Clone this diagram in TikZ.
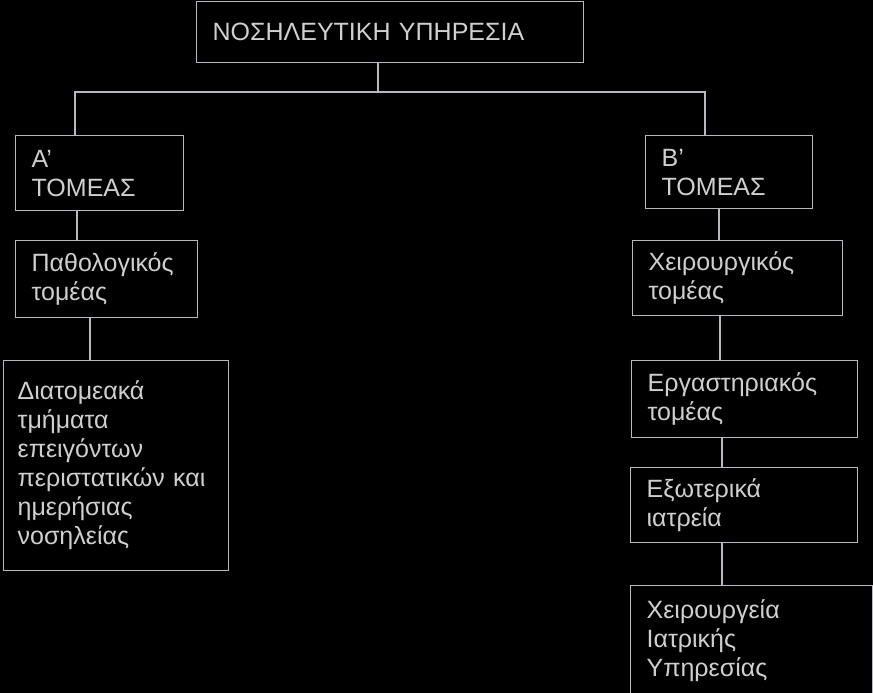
\documentclass[tikz,border=0pt]{standalone}
\usepackage{fontspec}
\setmainfont{Liberation Sans}
\definecolor{linec}{HTML}{B8B8C0}
\definecolor{textc}{HTML}{CFCFCF}
\tikzset{
  box/.style={draw=linec, line width=1.3pt, text=textc, anchor=north west,
    align=left, inner xsep=16pt, inner ysep=0pt,
    font=\fontsize{25}{29}\selectfont},
  conn/.style={draw=linec, line width=1.3pt}
}
\begin{document}
\begin{tikzpicture}[x=1pt,y=-1pt]
\fill[black] (0,0) rectangle (873,693);
\useasboundingbox (0,0) rectangle (873,693);
\clip (0,0) rectangle (873,693);

\node[box, text width=355pt, minimum height=61pt] (T) at (196,1) {ΝΟΣΗΛΕΥΤΙΚΗ ΥΠΗΡΕΣΙΑ};

\node[box, text width=136pt, minimum height=75pt] (A) at (15,135) {Α'\\ΤΟΜΕΑΣ};
\node[box, text width=150pt, minimum height=77pt] (P) at (15,240) {Παθολογικός\\τομέας};
\node[box, inner xsep=14pt, text width=197pt, minimum height=210pt] (D) at (3,360)
  {Διατομεακά\\τμήματα\\επειγόντων\\\mbox{περιστατικών και}\\ημερήσιας\\νοσηλείας};

\node[box, text width=135pt, minimum height=73pt] (B) at (645,135) {Β'\\ΤΟΜΕΑΣ};
\node[box, text width=178pt, minimum height=75pt] (X) at (632,240) {Χειρουργικός\\τομέας};
\node[box, text width=194pt, minimum height=77pt] (E) at (631,360) {Εργαστηριακός\\τομέας};
\node[box, text width=195pt, minimum height=75pt] (O) at (630,467) {Εξωτερικά\\ιατρεία};
\node[box, text width=210pt, minimum height=110pt] (S) at (630,585) {Χειρουργεία\\Ιατρικής\\Υπηρεσίας};

\coordinate (jT) at (378,92);
\coordinate (jA) at (75,92);
\coordinate (jB) at (705,92);
\coordinate (cAP) at (77,0);
\coordinate (cPD) at (90,0);
\coordinate (cBX) at (719,0);
\coordinate (cXE) at (720,0);
\coordinate (cEO) at (722,0);
\coordinate (cOS) at (722,0);

\draw[conn] (T.south -| jT) -- (jT);
\draw[conn] (A.north -| jA) -- (jA) -- (jB) -- (B.north -| jB);
\draw[conn] (A.south -| cAP) -- (P.north -| cAP);
\draw[conn] (P.south -| cPD) -- (D.north -| cPD);
\draw[conn] (B.south -| cBX) -- (X.north -| cBX);
\draw[conn] (X.south -| cXE) -- (E.north -| cXE);
\draw[conn] (E.south -| cEO) -- (O.north -| cEO);
\draw[conn] (O.south -| cOS) -- (S.north -| cOS);
\end{tikzpicture}
\end{document}
